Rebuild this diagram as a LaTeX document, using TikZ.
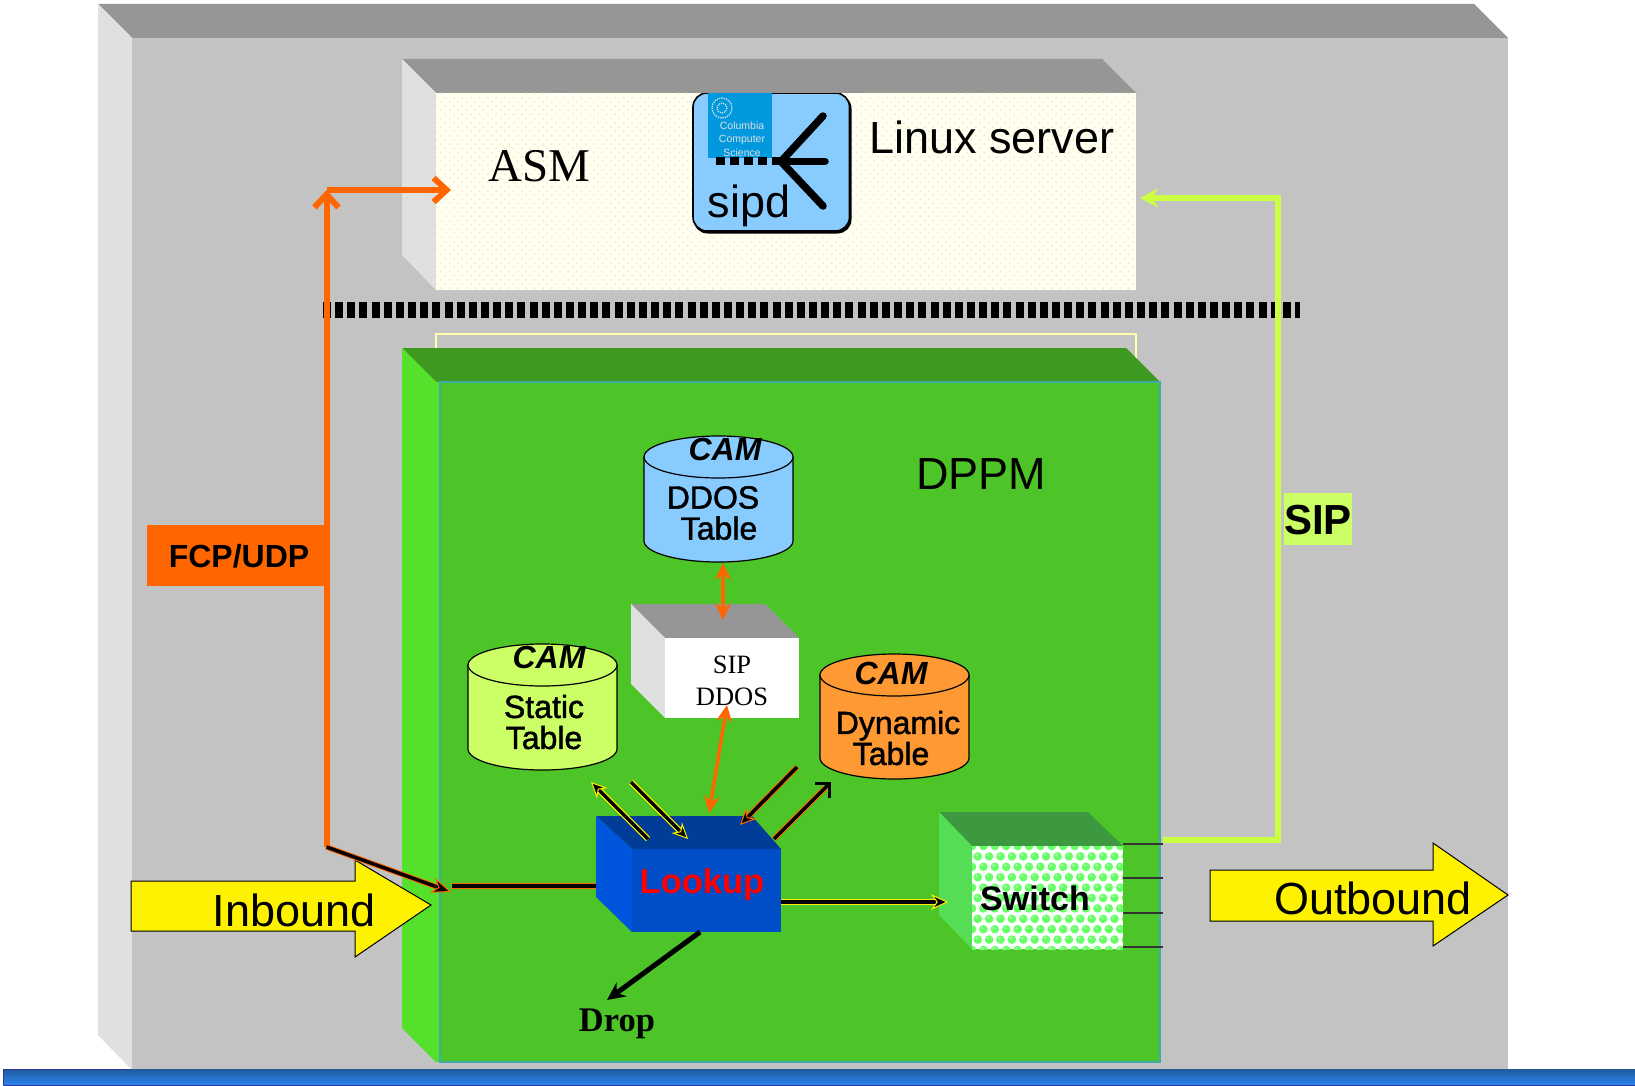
\documentclass[tikz,border=0pt]{standalone}
\usepackage{fontspec}
\setmainfont{Liberation Sans}
\newfontfamily\tms{Liberation Serif}
\newfontfamily\fakeb[FakeBold=1.5]{Liberation Sans}
\usetikzlibrary{arrows.meta,patterns.meta}
\definecolor{outerF}{HTML}{C3C3C3}\definecolor{outerT}{HTML}{969696}\definecolor{outerL}{HTML}{E0E0E0}
\definecolor{dpF}{HTML}{4DC428}\definecolor{dpT}{HTML}{3D9920}\definecolor{dpL}{HTML}{55E02C}
\definecolor{lkF}{HTML}{004DC8}\definecolor{lkT}{HTML}{003D99}\definecolor{lkL}{HTML}{0055DD}
\definecolor{swT}{HTML}{3D9940}\definecolor{swL}{HTML}{55DD55}\definecolor{bubble}{HTML}{66FF66}
\definecolor{orng}{HTML}{FF6600}\definecolor{lime}{HTML}{CCFF44}\definecolor{limeF}{HTML}{CCFF66}
\definecolor{skyb}{HTML}{88CCFF}\definecolor{logob}{HTML}{0099DD}\definecolor{dynO}{HTML}{FF9933}
\definecolor{cream}{HTML}{FFFFF2}\definecolor{bartop}{HTML}{1F5A9A}\definecolor{barbot}{HTML}{2A85F0}\definecolor{baredge}{HTML}{333399}
\tikzset{
 facebox/.style={inner sep=0pt,outer sep=0pt,anchor=north west,draw=none},
 txt/.style={inner sep=0pt,outer sep=0pt,align=center},
 big/.style={txt,font=\fontsize{45}{45}\selectfont},
 cyltxt/.style={txt,font=\fontsize{32}{31}\selectfont\fakeb},
 camtxt/.style={txt,font=\fontsize{32}{32}\selectfont\bfseries\itshape},
 bigarrow/.style={draw=black,line width=1pt,fill=yellow},
 orangeline/.style={draw=orng,line width=6pt},
 orangedbl/.style={draw=orng,line width=3.5pt,{Stealth[length=17pt,width=16pt]}-{Stealth[length=17pt,width=16pt]}},
 yl/.style={preaction={draw=yellow,line width=6pt,arrows=-,shorten >=8pt},draw=black,line width=3.5pt},
 ol/.style={preaction={draw=orng,line width=5.5pt,arrows=-,shorten >=8pt},draw=black,line width=3.5pt},
}
\newcommand{\mycyl}[6]{% name left top width height colour
 \pgfmathsetmacro{\rx}{#4/2}\pgfmathsetmacro{\cx}{#2+#4/2}\pgfmathsetmacro{\yy}{#3+21}\pgfmathsetmacro{\yb}{#3+#5-21}
 \draw[fill=#6,line width=1.2pt] (#2,\yy) -- (#2,\yb) arc[start angle=180,end angle=0,x radius=\rx,y radius=21] -- (#2+#4,\yy) -- cycle;
 \draw[fill=#6,line width=1.2pt] (\cx,\yy) ellipse[x radius=\rx,y radius=21];
 \coordinate (#1) at (\cx,\yy);
}
\begin{document}
\begin{tikzpicture}[x=1pt,y=-1pt,line join=miter]
\useasboundingbox (0,0) rectangle (1635,1086);
\fill[white] (0,0) rectangle (1635,1086);
% outer chassis
\fill[outerT] (98,4) -- (1474,4) -- (1508,38) -- (132,38) -- cycle;
\fill[outerL] (98,4) -- (132,38) -- (132,1070) -- (98,1035) -- cycle;
\node[facebox,fill=outerF,minimum width=1376,minimum height=1032] (chassis) at (132,38) {};
\fill[top color=bartop,bottom color=barbot,shading angle=0] (3,1069) rectangle (1635,1085);
\draw[baredge,line width=1.4pt] (3.7,1085) -- (3.7,1069.7) -- (130,1069.7);
\draw[baredge,line width=1pt] (3.7,1085.5) -- (1635,1085.5);
% ASM
\fill[outerT] (402,59) -- (1102,59) -- (1136,93) -- (436,93) -- cycle;
\fill[outerL] (402,59) -- (436,93) -- (436,290) -- (402,255) -- cycle;
\node[facebox,fill=cream,minimum width=700,minimum height=197] (asm) at (436,93) {};
\fill[pattern={Dots[distance=6pt,radius=1pt,angle=45]},pattern color=yellow!30!orange!30] (436,93) rectangle (1136,290);
\node[txt,font=\fontsize{47}{47}\selectfont\tms] (asmlabel) at (539,166) {ASM};
\node[big] (linux) at (992,137) {Linux server};
% sipd box
\fill[black,rounded corners=14pt] (693.5,94.5) rectangle (851.5,233.5);
\node[facebox,fill=skyb,draw=black,line width=1.6pt,rounded corners=14pt,minimum width=156.5,minimum height=138] (sipdbox) at (693,93) {};
\fill[outerT] (690,91.5) rectangle (860,93);
\fill[logob] (708,93) rectangle (772,158);
\draw[outerL,line width=1.3pt,densely dotted] (722,108) circle[radius=10];
\draw[outerL,line width=1.2pt,densely dotted] (722,108) circle[radius=5];
\node[txt,text=outerL,font=\fontsize{10.5}{13.5}\selectfont] (logotext) at (742,139) {Columbia\\Computer\\Science};
\coordinate (sd) at (716,161.5); \coordinate (sh) at (781,161.5);
\coordinate (st) at (825,161.5); \coordinate (su) at (823,116); \coordinate (sl) at (823,206);
\draw[black,line width=8pt,dash pattern=on 9pt off 5pt] (sd) -- (sh);
\draw[black,line width=7.5pt,line cap=round] (su) -- (sh) -- (sl);
\draw[black,line width=7.5pt,line cap=round] (sh) -- (st);
\node[txt,font=\fontsize{45}{45}\selectfont] (sipd) at (749,206) {sipd};
% faint box behind DPPM
\draw[cream!70!yellow,line width=1.4pt] (436,360) -- (436,334) -- (1136,334) -- (1136,360);
% DPPM
\fill[dpT] (402,348) -- (1126,348) -- (1160,382) -- (436,382) -- cycle;
\fill[dpL] (402,348) -- (436,382) -- (440,382) -- (440,1062) -- (436,1062) -- (402,1028) -- cycle;
\node[facebox,fill=dpF,draw=cyan!50!dpF,line width=1.2pt,minimum width=720,minimum height=680] (dppm) at (440,382) {};
\node[big] (dppmlabel) at (981,474) {DPPM};
% divider
\coordinate (divL) at (323,310); \coordinate (divR) at (1300,310);
\draw[black,line width=16pt,dash pattern=on 8pt off 4.15pt] (divL) -- (divR);
% cylinders
\mycyl{ddoscyl}{644}{436}{149}{126}{skyb}
\mycyl{staticcyl}{468}{644}{149}{126}{limeF}
\mycyl{dyncyl}{820}{654}{149}{125}{dynO}
\node[camtxt] (cam1) at (725,449) {CAM};
\node[camtxt] (cam2) at (549,657) {CAM};
\node[camtxt] (cam3) at (891,673) {CAM};
\node[cyltxt] (ddostxt) at (716,513) {\hspace*{-6pt}DDOS\\\hspace*{6pt}Table};
\node[cyltxt] (statictxt) at (544,722) {Static\\Table};
\node[cyltxt] (dyntxt) at (898,738) {Dynamic\\Table\hspace*{14pt}};
% SIP DDOS box
\fill[outerT] (631,604) -- (765,604) -- (799,638) -- (665,638) -- cycle;
\fill[outerL] (631,604) -- (665,638) -- (665,718) -- (631,684) -- cycle;
\node[facebox,fill=white,minimum width=134,minimum height=80] (sipddos) at (665,638) {};
\node[txt,font=\fontsize{26.5}{32}\selectfont\tms] (sipddostxt) at (732,681) {SIP\\DDOS};
% Lookup
\fill[lkT] (596,816) -- (752,816) -- (781,849) -- (632,849) -- cycle;
\fill[lkL] (596,816) -- (632,849) -- (632,932) -- (596,897) -- cycle;
\node[facebox,fill=lkF,minimum width=149,minimum height=83] (lookup) at (632,849) {};
\node[txt,text=red,font=\fontsize{34.5}{34}\selectfont\bfseries] (lookuptxt) at (702,885) {Lookup};
% Switch
\fill[swT] (939,812) -- (1088,812) -- (1123,846) -- (972,846) -- cycle;
\fill[swL] (939,812) -- (972,846) -- (972,949) -- (939,915) -- cycle;
\node[facebox,fill=white,minimum width=151,minimum height=103] (switch) at (972,846) {};
\begin{scope}
\clip (972,846) rectangle (1123,949);
\foreach \i in {0,...,14}{\foreach \j in {0,...,10}{
 \pgfmathsetmacro{\px}{972+\i*11.4+mod(\j,2)*5.7}
 \pgfmathsetmacro{\py}{846+\j*10.4}
 \fill[bubble] (\px,\py) circle[radius=4.3];
 \fill[white!40!bubble] (\px-1,\py-1.4) circle[radius=1.6];
}}
\end{scope}
\node[txt,font=\fontsize{34}{34}\selectfont\bfseries] (switchtxt) at (1035,898) {Switch};
% switch port stubs
\coordinate (p1) at (1163,844); \coordinate (p2) at (1163,878); \coordinate (p3) at (1163,913); \coordinate (p4) at (1163,947);
\draw[black!80,line width=1.4pt] (switch.north east |- p1) -- (p1);
\draw[black!80,line width=1.4pt] (switch.north east |- p2) -- (p2);
\draw[black!80,line width=1.4pt] (switch.north east |- p3) -- (p3);
\draw[black!80,line width=1.4pt] (switch.north east |- p4) -- (p4);
% big arrows
\draw[bigarrow] (131,881) -- (355,881) -- (355,860) -- (431,905) -- (355,957) -- (355,931) -- (131,931) -- cycle;
\node[big] (inbound) at (294,910) {Inbound};
\draw[bigarrow] (1210,870) -- (1433,870) -- (1433,843) -- (1508,895) -- (1433,946) -- (1433,921) -- (1210,921) -- cycle;
\node[big] (outbound) at (1373,898) {Outbound};
% labels
\node[facebox,fill=orng,minimum width=183,minimum height=61] (fcp) at (147,525) {};
\node[txt,font=\fontsize{32}{32}\selectfont\bfseries] (fcptxt) at (239,556) {FCP/UDP};
\node[facebox,fill=limeF,minimum width=68,minimum height=52] (sipl) at (1284,493) {};
\node[txt,font=\fontsize{42}{42}\selectfont\bfseries] (siptxt) at (1318,520) {SIP};
% orange path
\coordinate (branch) at (326.5,847); \coordinate (corner) at (326.5,190); \coordinate (asmin) at (451,190);
\draw[orangeline,-{Straight Barb[length=13pt,width=24pt,line width=6pt]}] (branch) -- (corner);
\draw[orangeline,-{Straight Barb[length=13pt,width=24pt,line width=6pt]}] (corner) -- (asmin);
% SIP line
\coordinate (swout) at (1163,840); \coordinate (sipc1) at (1278,840); \coordinate (sipc2) at (1278,198); \coordinate (asmout) at (1140,198);
\draw[lime,line width=6pt,-{Stealth[length=18pt,width=19pt]}] (swout) -- (sipc1) -- (sipc2) -- (asmout);
% inbound branch
\coordinate (intip) at (451,892); \coordinate (instart) at (452,886); \coordinate (inend) at (596,886);
\draw[ol,-{Stealth[length=20pt,width=16pt,line width=1pt,color=orng,fill=black]}] (branch) -- (intip);
\draw[draw=orng,line width=5.5pt] (instart) -- (inend);
\draw[black,line width=3.5pt] (instart) -- (inend);
% table arrows
\coordinate (d1) at (723,563); \coordinate (d2) at (723,620);
\draw[orangedbl] (d1) -- (d2);
\coordinate (e1) at (727,705); \coordinate (e2) at (709,813);
\draw[orangedbl] (e1) -- (e2);
\coordinate (a1) at (648,839); \coordinate (a2) at (591,782);
\draw[yl,-{Stealth[length=16pt,width=15pt,line width=1pt,color=yellow,fill=black]}] (a1) -- (a2);
\coordinate (b1) at (631,782); \coordinate (b2) at (688,839);
\draw[yl,-{Stealth[length=16pt,width=15pt,line width=1pt,color=yellow,fill=black]}] (b1) -- (b2);
\coordinate (c1) at (797,767); \coordinate (c2) at (740,825);
\draw[ol,-{Stealth[length=16pt,width=15pt,line width=1pt,color=orng,fill=black]}] (c1) -- (c2);
\coordinate (f1) at (774,839); \coordinate (f2) at (831,782);
\draw[ol,-{Straight Barb[length=10pt,width=20pt,line width=3pt]}] (f1) -- (f2);
\coordinate (g2) at (948,902);
\draw[yl,-{Stealth[length=17pt,width=16pt,line width=1pt,color=yellow,fill=black]}] (lookup.east |- g2) -- (g2);
% drop
\coordinate (dropa) at (700,932); \coordinate (dropb) at (607,1000);
\draw[black,line width=5pt,-{Stealth[length=18pt,width=17pt]}] (dropa) -- (dropb);
\node[txt,font=\fontsize{34.5}{34}\selectfont\tms\bfseries] (droptxt) at (617,1024) {Drop};
\end{tikzpicture}
\end{document}
